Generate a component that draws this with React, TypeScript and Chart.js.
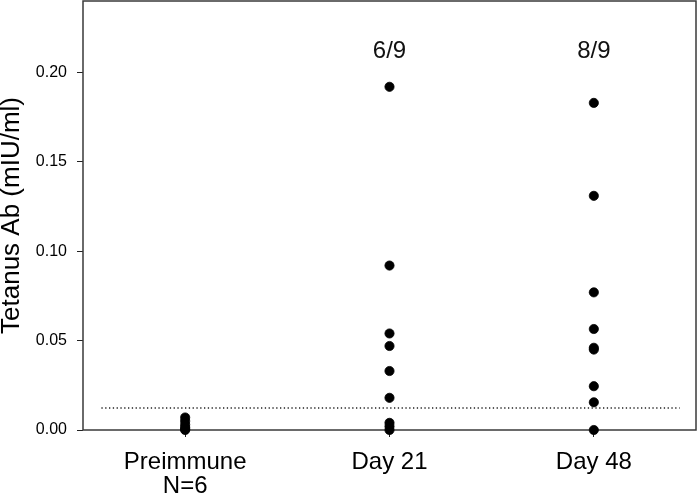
import React, { useEffect, useRef } from "react";
import { Chart, registerables } from "chart.js";

Chart.register(...registerables);

const categories = [["Preimmune", "N=6"], "Day 21", "Day 48"];
const preimmune = [0.007, 0.005, 0.003, 0.0015, 0.0005, 0.0];
const day21 = [0.192, 0.092, 0.054, 0.047, 0.033, 0.018, 0.004, 0.002, 0.0];
const day48 = [0.183, 0.131, 0.077, 0.0565, 0.046, 0.045, 0.0245, 0.0155, 0.0];
const cutoff = 0.0123;
const cutoffRange = [-0.41, 2.42];
const yTicks = [0, 0.05, 0.1, 0.15, 0.2];
const ratioLabels = [
  { x: 1, text: "6/9" },
  { x: 2, text: "8/9" },
];
const ratioLabelY = 0.212;

const FONT = "'Liberation Sans', Arial, sans-serif";

export default function App() {
  const ref = useRef<HTMLCanvasElement | null>(null);

  useEffect(() => {
    if (!ref.current) return;
    const toPts = (vals: number[], xi: number) => vals.map((v) => ({ x: xi, y: v }));

    const framePlugin = {
      id: "frame",
      beforeDatasetsDraw(chart: any) {
        const { ctx, chartArea } = chart;
        ctx.save();
        ctx.strokeStyle = "#3a3a3a";
        ctx.lineWidth = 1.5;
        ctx.strokeRect(chartArea.left, chartArea.top, chartArea.right - chartArea.left, chartArea.bottom - chartArea.top);
        ctx.restore();
      },
      afterDatasetsDraw(chart: any) {
        const { ctx, scales } = chart;
        ctx.save();
        ctx.fillStyle = "#111";
        ctx.font = `24px ${FONT}`;
        ctx.textAlign = "center";
        ctx.textBaseline = "middle";
        ratioLabels.forEach((l) => {
          ctx.fillText(l.text, scales.x.getPixelForValue(l.x), scales.y.getPixelForValue(ratioLabelY));
        });
        ctx.restore();
      },
    };

    const pointStyle = {
      type: "scatter" as const,
      backgroundColor: "#000",
      borderColor: "#000",
      pointRadius: 4.6,
      pointBorderWidth: 0.8,
      clip: false as any,
    };

    const chart = new Chart(ref.current, {
      type: "scatter",
      data: {
        datasets: [
          {
            type: "line",
            data: [
              { x: cutoffRange[0], y: cutoff },
              { x: cutoffRange[1], y: cutoff },
            ],
            borderColor: "#222",
            borderWidth: 1.3,
            borderDash: [1.3, 2.5],
            pointRadius: 0,
            fill: false,
          } as any,
          { ...pointStyle, data: toPts(preimmune, 0) },
          { ...pointStyle, data: toPts(day21, 1) },
          { ...pointStyle, data: toPts(day48, 2) },
        ],
      },
      options: {
        responsive: false,
        animation: false,
        layout: { autoPadding: false, padding: { top: 1, right: 1, left: 0, bottom: 0 } } as any,
        plugins: { legend: { display: false }, tooltip: { enabled: false } },
        scales: {
          x: {
            type: "linear",
            min: -0.5,
            max: 2.5,
            afterBuildTicks: (s: any) => {
              s.ticks = categories.map((_, i) => ({ value: i }));
            },
            afterFit: (s: any) => {
              s.height = 67;
              s.paddingLeft = 0;
              s.paddingRight = 0;
            },
            grid: { display: true, drawOnChartArea: false, tickLength: 7, color: "#222", lineWidth: 1 },
            border: { display: false },
            ticks: {
              color: "#000",
              padding: 13,
              font: { family: FONT, size: 24, lineHeight: 1.02 },
              maxRotation: 0,
              callback: (v: any) => categories[Math.round(Number(v))] as any,
            },
          },
          y: {
            min: 0,
            max: 0.24,
            afterBuildTicks: (s: any) => {
              s.ticks = yTicks.map((v) => ({ value: v }));
            },
            afterFit: (s: any) => {
              s.width = 83;
              s.paddingTop = 0;
              s.paddingBottom = 0;
            },
            grid: { display: true, drawOnChartArea: false, tickLength: 6, color: "#222", lineWidth: 1 },
            border: { display: false },
            title: {
              display: true,
              text: "Tetanus Ab (mIU/ml)",
              color: "#000",
              font: { family: FONT, size: 26, lineHeight: 0.9 },
              padding: { top: 0, bottom: 0 },
            },
            ticks: {
              color: "#000",
              padding: 10,
              font: { family: FONT, size: 16 },
              callback: (v: any) => Number(v).toFixed(2),
            },
          },
        },
      },
      plugins: [framePlugin],
    });

    return () => chart.destroy();
  }, []);

  return (
    <div style={{ position: "absolute", left: 0, top: 0, width: 697, height: 497, background: "#fff" }}>
      <canvas ref={ref} width={697} height={497} style={{ display: "block" }} />
    </div>
  );
}
